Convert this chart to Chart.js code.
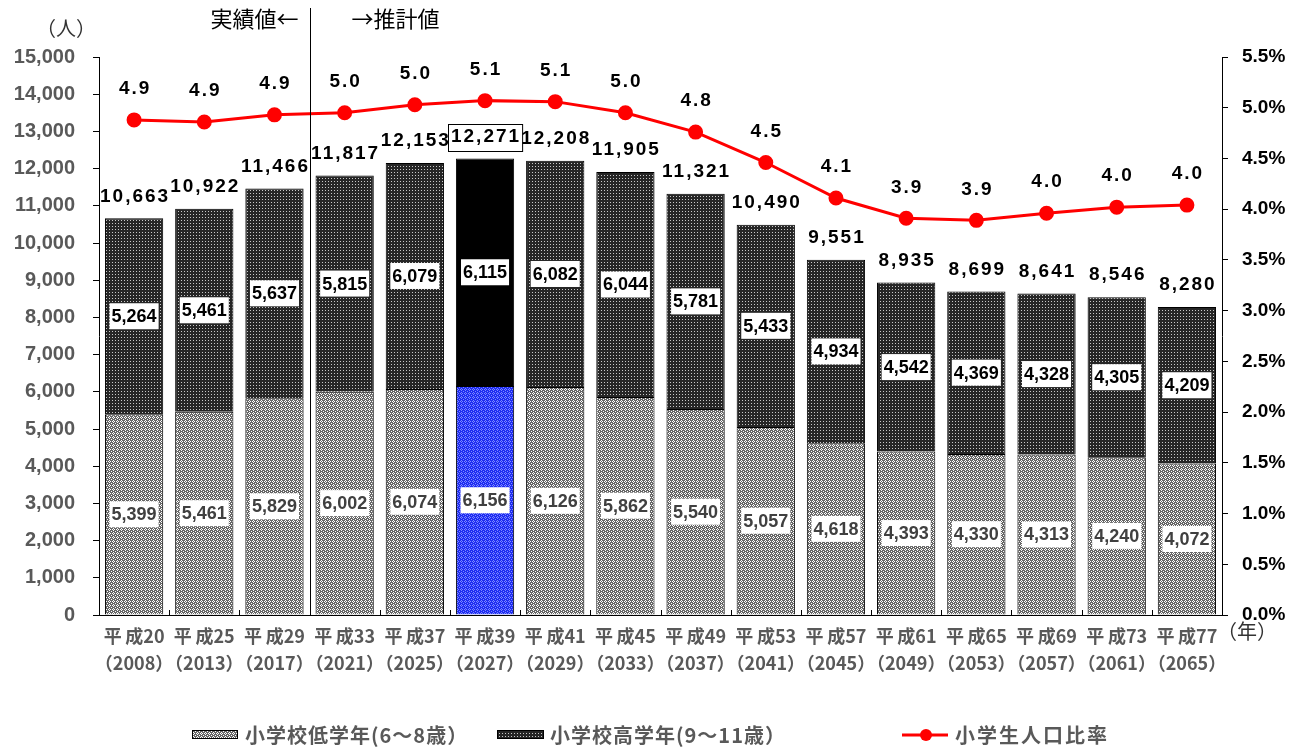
<!DOCTYPE html>
<html>
<head>
<meta charset="utf-8">
<script src="https://cdn.jsdelivr.net/npm/chart.js@4.4.1/dist/chart.umd.min.js"></script>
<style>
  html, body { margin: 0; padding: 0; background: #fff; }
  #wrap { width: 1295px; height: 751px; }
</style>
</head>
<body>
<div id="wrap"><canvas id="chart" width="1295" height="751"></canvas></div>
<script>
const eras = ['平成20', '平成25', '平成29', '平成33', '平成37', '平成39', '平成41', '平成45', '平成49', '平成53', '平成57', '平成61', '平成65', '平成69', '平成73', '平成77'];
const years = ['2008', '2013', '2017', '2021', '2025', '2027', '2029', '2033', '2037', '2041', '2045', '2049', '2053', '2057', '2061', '2065'];
const lowerGrade = [5399, 5461, 5829, 6002, 6074, 6156, 6126, 5862, 5540, 5057, 4618, 4393, 4330, 4313, 4240, 4072];
const upperGrade = [5264, 5461, 5637, 5815, 6079, 6115, 6082, 6044, 5781, 5433, 4934, 4542, 4369, 4328, 4305, 4209];
const totals = [10663, 10922, 11466, 11817, 12153, 12271, 12208, 11905, 11321, 10490, 9551, 8935, 8699, 8641, 8546, 8280];
const ratio = [4.88, 4.86, 4.93, 4.95, 5.03, 5.07, 5.06, 4.95, 4.76, 4.46, 4.11, 3.91, 3.89, 3.96, 4.02, 4.04];
const ratioLabels = ['4.9', '4.9', '4.9', '5.0', '5.0', '5.1', '5.1', '5.0', '4.8', '4.5', '4.1', '3.9', '3.9', '4.0', '4.0', '4.0'];
const leftTicks = [0, 1000, 2000, 3000, 4000, 5000, 6000, 7000, 8000, 9000, 10000, 11000, 12000, 13000, 14000, 15000];
const rightTicks = [0, 0.5, 1, 1.5, 2, 2.5, 3, 3.5, 4, 4.5, 5, 5.5];
const highlight = 5; // 平成39 (2027)

const greyText = '#595959';

function makePattern(size, bg, fg, dots) {
    const c = document.createElement('canvas');
    c.width = size; c.height = size;
    const g = c.getContext('2d');
    g.fillStyle = bg;
    g.fillRect(0, 0, size, size);
    g.fillStyle = fg;
    dots.forEach(d => g.fillRect(d[0], d[1], 1, 1));
    return g.createPattern(c, 'repeat');
}

const crossDots = [[1, 0], [0, 1], [2, 1], [1, 2], [3, 3]];
const lowPattern = makePattern(4, '#666666', '#ffffff', crossDots);
const highPattern = makePattern(3, '#262626', '#c8c8c8', [[1, 1]]);
const bluePattern = makePattern(4, '#1e2cf2', '#7d89ff', crossDots);

const lowColors = lowerGrade.map((v, i) => i === highlight ? bluePattern : lowPattern);
const highColors = upperGrade.map((v, i) => i === highlight ? '#000000' : highPattern);

function fmt(n) {
    return n.toLocaleString('en-US');
}

const labelPlugin = {
    id: 'labels',
    afterDatasetsDraw(chart) {
        const ctx = chart.ctx;
        const area = chart.chartArea;
        const x = chart.scales.x;
        ctx.save();
        ctx.textAlign = 'center';
        ctx.textBaseline = 'middle';

        // values inside the stacked segments
        [1, 2].forEach(di => {
            const meta = chart.getDatasetMeta(di);
            const vals = chart.data.datasets[di].data;
            meta.data.forEach((bar, i) => {
                const cy = (bar.y + bar.base) / 2;
                const txt = fmt(vals[i]);
                ctx.font = 'bold 18px "Liberation Sans", Arial, sans-serif';
                const w = ctx.measureText(txt).width + 4;
                ctx.fillStyle = '#ffffff';
                ctx.fillRect(bar.x - w / 2, cy - 13, w, 26);
                ctx.fillStyle = di === 1 ? '#404040' : '#000000';
                ctx.fillText(txt, bar.x, cy + 1);
            });
        });

        // totals above the bars
        const topMeta = chart.getDatasetMeta(2);
        ctx.font = 'bold 19px "Liberation Sans", Arial, sans-serif';
        ctx.letterSpacing = '2px';
        topMeta.data.forEach((bar, i) => {
            const txt = fmt(totals[i]);
            const ty = bar.y - 22;
            ctx.fillStyle = '#000000';
            ctx.fillText(txt, bar.x + 1, ty);
            if (i === highlight) {
                const w = ctx.measureText(txt).width + 4;
                ctx.strokeStyle = '#000000';
                ctx.lineWidth = 1;
                ctx.strokeRect(Math.round(bar.x - w / 2) + 0.5, Math.round(ty - 13) + 0.5, w, 27);
            }
        });

        // ratio labels above the points
        const lineMeta = chart.getDatasetMeta(0);
        ctx.font = 'bold 19px "Liberation Sans", Arial, sans-serif';
        ctx.letterSpacing = '2px';
        lineMeta.data.forEach((pt, i) => {
            ctx.fillStyle = '#000000';
            ctx.fillText(ratioLabels[i], pt.x + 1, pt.y - 31);
        });
        ctx.letterSpacing = '0px';

        // small tick marks on the category axis
        ctx.strokeStyle = '#000000';
        ctx.lineWidth = 1;
        for (let i = 1; i < eras.length; i++) {
            const bx = Math.round((x.getPixelForValue(i - 1) + x.getPixelForValue(i)) / 2) + 0.5;
            ctx.beginPath();
            ctx.moveTo(bx, area.bottom);
            ctx.lineTo(bx, area.bottom - 5);
            ctx.stroke();
        }

        // actual / estimate divider
        const dx = Math.round((x.getPixelForValue(2) + x.getPixelForValue(3)) / 2) + 0.5;
        ctx.beginPath();
        ctx.moveTo(dx, 8);
        ctx.lineTo(dx, area.bottom);
        ctx.stroke();

        ctx.font = '22px "Noto Sans CJK JP", sans-serif';
        ctx.fillStyle = '#000000';
        ctx.textAlign = 'right';
        ctx.fillText('実績値←', dx - 12, 19);
        ctx.textAlign = 'left';
        ctx.fillText('→推計値', dx + 41, 19);

        // unit labels
        ctx.font = '20px "Noto Sans CJK JP", sans-serif';
        ctx.fillStyle = '#333333';
        ctx.textAlign = 'center';
        ctx.fillText('（人）', 66, 28);
        ctx.fillText('（年）', 1247, 631);

        // legend
        const ly = 735;
        ctx.font = 'bold 20px "Noto Sans CJK JP", sans-serif';
        ctx.letterSpacing = '1px';
        ctx.textAlign = 'left';
        ctx.lineWidth = 1;
        ctx.strokeStyle = '#000000';
        ctx.fillStyle = lowPattern;
        ctx.fillRect(192, ly - 5, 45, 8);
        ctx.strokeRect(192.5, ly - 4.5, 45, 8);
        ctx.fillStyle = greyText;
        ctx.fillText('小学校低学年(6～8歳）', 245, ly);

        ctx.fillStyle = highPattern;
        ctx.fillRect(497, ly - 5, 46, 8);
        ctx.strokeRect(497.5, ly - 4.5, 46, 8);
        ctx.fillStyle = greyText;
        ctx.fillText('小学校高学年(9～11歳）', 550, ly);

        ctx.strokeStyle = '#ff0000';
        ctx.lineWidth = 3;
        ctx.beginPath();
        ctx.moveTo(902, ly);
        ctx.lineTo(948, ly);
        ctx.stroke();
        ctx.fillStyle = '#ff0000';
        ctx.beginPath();
        ctx.arc(926, ly, 6, 0, Math.PI * 2);
        ctx.fill();
        ctx.fillStyle = greyText;
        ctx.letterSpacing = '2px';
        ctx.fillText('小学生人口比率', 955, ly);

        ctx.restore();
    }
};

const canvasChart = document.getElementById('chart').getContext('2d');
new Chart(canvasChart, {
    type: 'bar',
    data: {
        labels: eras.map((e, i) => [e.slice(0, 1) + '\u2009' + e.slice(1), '（' + years[i] + '）']),
        datasets: [
            {
                type: 'line',
                label: '小学生人口比率',
                data: ratio,
                yAxisID: 'y2',
                borderColor: '#ff0000',
                backgroundColor: '#ff0000',
                borderWidth: 3,
                pointRadius: 6,
                pointHoverRadius: 6,
                tension: 0,
                order: 0
            },
            {
                label: '小学校低学年(6～8歳）',
                data: lowerGrade,
                backgroundColor: lowColors,
                borderColor: '#000000',
                borderWidth: 1,
                stack: 's',
                barPercentage: 0.83,
                categoryPercentage: 1,
                order: 1
            },
            {
                label: '小学校高学年(9～11歳）',
                data: upperGrade,
                backgroundColor: highColors,
                borderColor: '#000000',
                borderWidth: 1,
                stack: 's',
                barPercentage: 0.83,
                categoryPercentage: 1,
                order: 1
            }
        ]
    },
    options: {
        responsive: false,
        animation: false,
        devicePixelRatio: 1,
        layout: { padding: { top: 57, left: 0, right: 0, bottom: 0 } },
        plugins: {
            legend: { display: false },
            tooltip: { enabled: false }
        },
        scales: {
            x: {
                stacked: true,
                offset: true,
                grid: { display: false, drawTicks: false },
                border: { display: true, color: '#000000', width: 1 },
                ticks: {
                    color: greyText,
                    font: { family: '"Noto Sans CJK JP", sans-serif', size: 18, weight: 'bold', lineHeight: 1.5 },
                    padding: 8,
                    maxRotation: 0,
                    autoSkip: false
                },
                afterFit(scale) { scale.height = 751 - 615; }
            },
            y: {
                stacked: true,
                min: 0,
                max: 15000,
                afterBuildTicks(scale) { scale.ticks = leftTicks.map(v => ({ value: v })); },
                grid: { drawOnChartArea: false, tickLength: 6, color: '#000000' },
                border: { display: true, color: '#000000', width: 1 },
                ticks: {
                    color: greyText,
                    padding: 18,
                    font: { family: '"Liberation Sans", Arial, sans-serif', size: 20, weight: 'bold' },
                    callback: v => fmt(v)
                },
                afterFit(scale) { scale.width = 99; }
            },
            y2: {
                position: 'right',
                min: 0,
                max: 5.5,
                afterBuildTicks(scale) { scale.ticks = rightTicks.map(v => ({ value: v })); },
                grid: { drawOnChartArea: false, tickLength: 6, color: '#000000' },
                border: { display: true, color: '#000000', width: 1 },
                ticks: {
                    color: '#000000',
                    padding: 14,
                    font: { family: '"Liberation Sans", Arial, sans-serif', size: 19, weight: 'bold' },
                    callback: v => v.toFixed(1) + '%'
                },
                afterFit(scale) { scale.width = 1295 - 1222; }
            }
        }
    },
    plugins: [labelPlugin]
});
</script>
</body>
</html>
